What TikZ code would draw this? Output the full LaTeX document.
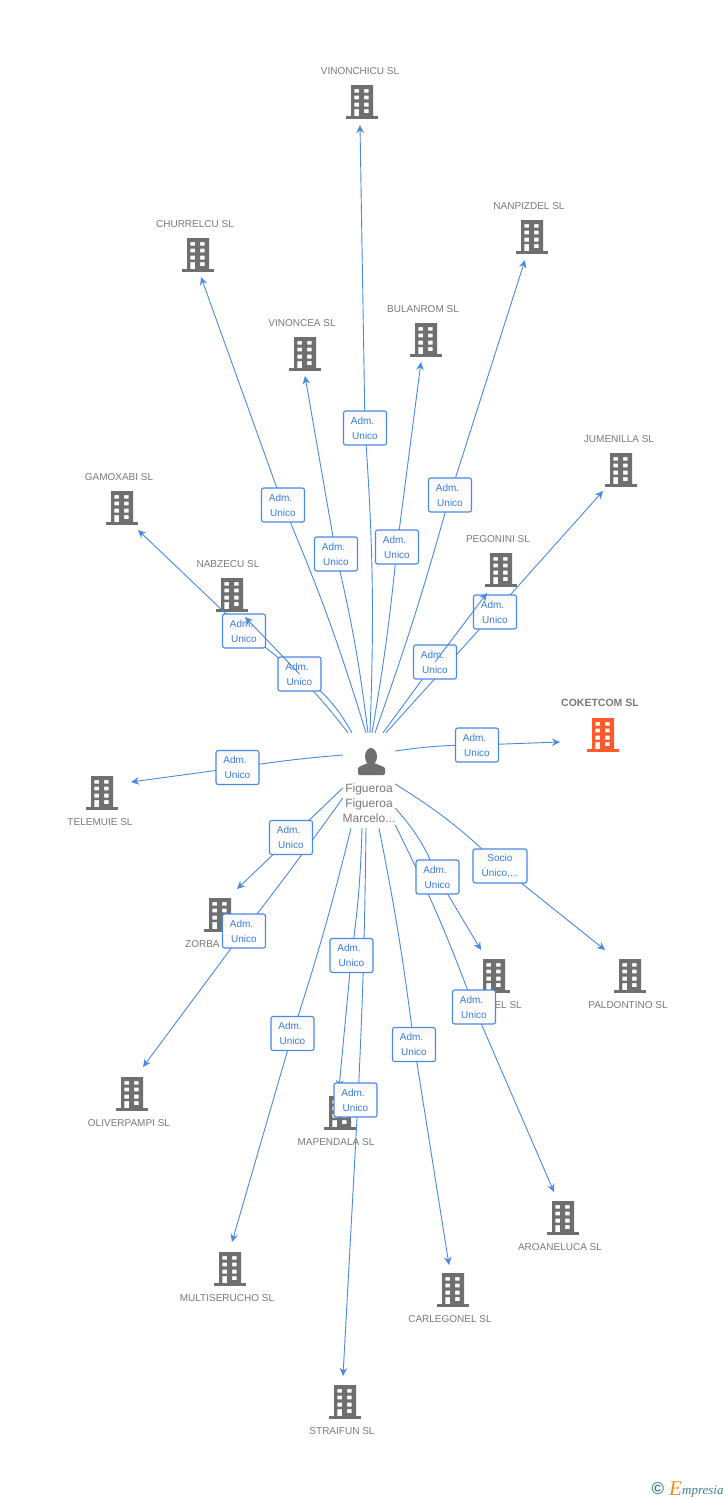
\documentclass[tikz,border=0pt]{standalone}
\usepackage{fontspec}
\setmainfont{Liberation Sans}
\newfontfamily\logofont{Liberation Serif}
\usetikzlibrary{arrows.meta,calc}
\definecolor{wire}{HTML}{4A8AE3}
\definecolor{labtext}{HTML}{3A7BE0}
\definecolor{greytext}{HTML}{7A7A7A}
\definecolor{bldggrey}{HTML}{6F6F6F}
\definecolor{bldgred}{HTML}{FF5A2C}
\definecolor{logoblue}{HTML}{3F7F9F}
\definecolor{logoorange}{HTML}{F08A1E}
\pgfdeclarelayer{icons}\pgfdeclarelayer{wires}\pgfdeclarelayer{topwires}
\pgfsetlayers{icons,wires,main,topwires}
\tikzset{
  wireline/.style={draw=wire,line width=0.9pt},
  tipped/.style={wireline,-{Stealth[length=8pt,width=7.5pt,fill=wire]}},
  lab/.style={draw=wire,line width=1.1pt,rounded corners=2.2pt,top color=white!97!black,bottom color=white,middle color=white,
    minimum width=43pt,minimum height=34pt,inner sep=0pt,text=labtext,align=center,
    font=\fontsize{10}{15}\selectfont},
  bldgbox/.style={minimum width=32pt,minimum height=34pt,inner sep=0pt},
  bname/.style={text=greytext,font=\fontsize{10}{12}\selectfont,inner sep=0pt},
}
\newcommand\bldg[4][bldggrey]{%
  \node[bldgbox] (#2) at (#3,#4) {};
  \begin{pgfonlayer}{icons}
  \fill[#1,even odd rule,shift={(#2.center)}]
    (-11,-17) rectangle (11,14)
    (-7.7,-13) rectangle (-3,-9.3) (2,-13) rectangle (6.7,-9.3)
    (-7.7,-6.3) rectangle (-3,-2.7) (2,-6.3) rectangle (6.7,-2.7)
    (-7.7,0.5) rectangle (-3,4.5) (2,0.5) rectangle (6.7,4.5)
    (-7.7,7.2) rectangle (-3,14) (2,7.2) rectangle (6.7,11.2);
  \fill[#1,shift={(#2.center)}] (-16,14) rectangle (16,17);
  \end{pgfonlayer}}
\newcommand\adm[3]{\node[lab] (#1) at (#2,#3) {Adm.\hspace*{5pt}\\Unico};}
\newcommand\wired[5][wires]{%
  \begin{pgfonlayer}{wires}
  \draw[wireline] #2 to[#3] (#4.center);
  \end{pgfonlayer}
  \begin{pgfonlayer}{#1}
  \draw[tipped] (#4.center) -- (#5);
  \end{pgfonlayer}}
\begin{document}
\begin{tikzpicture}[x=1pt,y=-1pt]
\useasboundingbox (0,0) rectangle (728,1500);
\begin{pgfonlayer}{icons}
\fill[white] (0,0) rectangle (728,1500);
\end{pgfonlayer}
% person
\node[minimum width=52pt,minimum height=94pt,inner sep=0pt] (person) at (369,780) {};
\begin{pgfonlayer}{icons}
\fill[bldggrey] (371,756.5) ellipse (6 and 8.5);
\fill[bldggrey,rounded corners=1.5pt] (358,775) -- (358,770) .. controls (358,766.5) and (363,765.5) .. (367,763) -- (375,763) .. controls (379,765.5) and (385,766.5) .. (385,770) -- (385,775) -- cycle;
\end{pgfonlayer}
\node[text=greytext,align=center,inner sep=0pt,font=\fontsize{12}{15}\selectfont] (personname) at (369,803) {Figueroa\\Figueroa\\Marcelo...};
% buildings
\bldg{vinonchicu}{362}{102}
\bldg{churrelcu}{198}{255}
\bldg{nanpizdel}{532}{237}
\bldg{vinoncea}{305}{354}
\bldg{bulanrom}{426}{340}
\bldg{jumenilla}{621}{470}
\bldg{pegonini}{501}{570}
\bldg{gamoxabi}{122}{508}
\bldg{nabzecu}{232}{595}
\bldg[bldgred]{coketcom}{603}{735}
\bldg{telemuie}{102}{793}
\bldg{zorba}{220}{915}
\bldg{xel}{494}{976}
\bldg{paldontino}{630}{976}
\bldg{oliverpampi}{132}{1094}
\bldg{mapendala}{340}{1113}
\bldg{aroaneluca}{563}{1218}
\bldg{carlegonel}{453}{1290}
\bldg{multiserucho}{230}{1269}
\bldg{straifun}{345}{1402}
% names
\node[bname] (n1) at (360,71) {VINONCHICU SL};
\node[bname] (n2) at (195,224) {CHURRELCU SL};
\node[bname] (n3) at (529,206) {NANPIZDEL SL};
\node[bname] (n4) at (302,323) {VINONCEA SL};
\node[bname] (n5) at (423,309) {BULANROM SL};
\node[bname] (n6) at (619,439) {JUMENILLA SL};
\node[bname] (n7) at (498,539) {PEGONINI SL};
\node[bname] (n8) at (119,477) {GAMOXABI SL};
\node[bname] (n9) at (228,564) {NABZECU SL};
\node[bname,font=\fontsize{10.5}{12}\bfseries\selectfont] (n10) at (600,703) {COKETCOM SL};
\node[bname] (n11) at (100,822) {TELEMUIE SL};
\node[bname,anchor=west] (n12) at (185,944) {ZORBA};
\node[bname,anchor=east] (n13) at (522,1005) {EL SL};
\node[bname] (n14) at (628,1005) {PALDONTINO SL};
\node[bname] (n15) at (129,1123) {OLIVERPAMPI SL};
\node[bname] (n16) at (336,1142) {MAPENDALA SL};
\node[bname] (n17) at (560,1247) {AROANELUCA SL};
\node[bname] (n18) at (450,1319) {CARLEGONEL SL};
\node[bname] (n19) at (227,1298) {MULTISERUCHO SL};
\node[bname] (n20) at (342,1431) {STRAIFUN SL};
% arrow ends
\coordinate (t1) at (360,125);
\coordinate (t2) at (201,277);
\coordinate (t3) at (525,260);
\coordinate (t4) at (305,376);
\coordinate (t5) at (421,362);
\coordinate (t6) at (603,491);
\coordinate (t7) at (487,593);
\coordinate (t8) at (138,530);
\coordinate (t9) at (245,617);
\coordinate (t10) at (560,742);
\coordinate (t11) at (131,782);
\coordinate (t12) at (237,889);
\coordinate (t13) at (481,950);
\coordinate (t14) at (605,950);
\coordinate (t15) at (143,1067);
\coordinate (t16) at (339,1088);
\coordinate (t17) at (554,1192);
\coordinate (t18) at (449,1265);
\coordinate (t19) at (232,1242);
\coordinate (t20) at (343,1376);
% labels
\adm{a1}{365}{428}
\adm{a2}{283}{505}
\adm{a3}{450}{495}
\adm{a4}{336}{554}
\adm{a5}{397}{547}
\adm{a6}{495}{612}
\adm{a7}{435}{662}
\adm{a8}{244}{631}
\adm{a9}{299.5}{674}
\adm{a10}{477}{745}
\adm{a11}{237.5}{767.5}
\adm{a12}{291}{837.5}
\adm{a13}{437.5}{877}
\node[lab,minimum width=54pt] (a14) at (500,866) {Socio\\Único,...};
\adm{a15}{244}{931}
\adm{a16}{351.5}{955.5}
\adm{a17}{474}{1007}
\adm{a18}{414}{1044.5}
\adm{a19}{292.5}{1033.5}
\adm{a20}{355.5}{1100}
% connectors
\wired{($(person.north)+(1,0)$)}{bend right=3}{a1}{t1}
\wired{($(person.north)+(-3,0)$)}{bend right=3}{a2}{t2}
\wired{($(person.north)+(6,0)$)}{bend right=2}{a3}{t3}
\wired{($(person.north)+(-1,0)$)}{bend right=3}{a4}{t4}
\wired{($(person.north)+(3,0)$)}{bend right=2}{a5}{t5}
\wired{($(person.north)+(17,0)$)}{bend left=0}{a6}{t6}
\wired[topwires]{($(person.north)+(14,0)$)}{bend left=0}{a7}{t7}
\wired{($(person.north)+(-21,0)$)}{bend right=8}{a8}{t8}
\wired[topwires]{($(person.north)+(-17,0)$)}{bend right=12}{a9}{t9}
\wired{($(person.east)+(0,-29)$)}{bend left=4}{a10}{t10}
\wired{($(person.west)+(0,-25)$)}{bend right=2}{a11}{t11}
\wired{($(person.west)+(0,8)$)}{bend left=0}{a12}{t12}
\wired{($(person.east)+(0,28)$)}{bend left=10}{a13}{t13}
\wired{($(person.east)+(0,4)$)}{bend left=6}{a14}{t14}
\wired{($(person.west)+(0,18)$)}{bend left=1}{a15}{t15}
\wired{($(person.south)+(-7,1)$)}{bend left=3}{a16}{t16}
\wired{($(person.east)+(0,45)$)}{bend left=3}{a17}{t17}
\wired{($(person.south)+(10,1)$)}{bend left=2}{a18}{t18}
\wired{($(person.south)+(-18,1)$)}{bend left=2}{a19}{t19}
\begin{pgfonlayer}{wires}
\draw[wireline] ($(person.south)+(-3,1)$) to[bend left=1] ($(a20.center)+(2.5,0)$);
\draw[tipped] ($(a20.center)+(2.5,0)$) -- (t20);
\end{pgfonlayer}
% logo
\node[inner sep=0pt,text=logoblue,font=\fontsize{17}{17}\selectfont\bfseries] (logoc) at (658,1489) {©};
\node[inner sep=0pt,anchor=base west,text=logoorange,font=\fontsize{21}{21}\selectfont\logofont\itshape] (logoe) at (669,1495) {E};
\node[inner sep=0pt,anchor=base west,text=logoblue,font=\fontsize{13}{13}\selectfont\logofont\itshape] (logot) at (682,1494) {mpresia};
\end{tikzpicture}
\end{document}
